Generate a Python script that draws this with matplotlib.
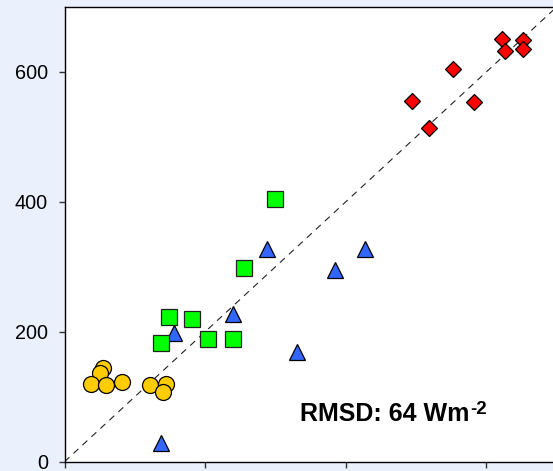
import matplotlib
matplotlib.use("Agg")
import matplotlib.pyplot as plt

# Data (modelled vs observed, W m-2)
circle_x = [55, 50, 37, 59, 82, 122, 144, 140]
circle_y = [144, 137, 120, 118, 123, 118, 120, 108]

triangle_x = [137, 156, 239, 288, 331, 385, 428]
triangle_y = [29, 198, 228, 327, 169, 295, 327]

square_x = [299, 256, 148, 181, 137, 204, 240]
square_y = [404, 298, 223, 220, 183, 189, 189]

diamond_x = [495, 518, 553, 583, 622, 626, 652, 652]
diamond_y = [555, 514, 605, 553, 651, 633, 649, 636]

one_to_one = [0, 700]
yticks = [0, 200, 400, 600]
xticks = [0, 200, 400, 600]
rmsd_label = "RMSD: 64 Wm"
rmsd_sup = "-2"

plt.rcParams['font.family'] = ['Liberation Sans', 'DejaVu Sans']

fig = plt.figure(figsize=(5.53, 4.71), dpi=100)
fig.patch.set_facecolor('#eaf0fc')
ax = fig.add_axes([64.5 / 553, 9.3 / 471, 492.1 / 553, 454.7 / 471])
ax.set_facecolor('white')

ax.plot(one_to_one, one_to_one, linestyle=(0, (6, 5)), color='#222222', lw=0.8, zorder=1)

ms = 11.5
ax.plot(circle_x, circle_y, 'o', ms=ms, mfc='#ffcc00', mec='black', mew=0.9, zorder=3)
ax.plot(triangle_x, triangle_y, '^', ms=ms + 0.5, mfc='#3366ff', mec='black', mew=0.9, zorder=3)
ax.plot(square_x, square_y, 's', ms=ms, mfc='#00ff00', mec='#222222', mew=0.9, zorder=4)
ax.plot(diamond_x, diamond_y, 'D', ms=8.6, mfc='#ff0000', mec='black', mew=0.9, zorder=3)

ax.set_xlim(0, 700)
ax.set_ylim(0, 700)
ax.set_xticks(xticks)
ax.set_yticks(yticks)
ax.set_yticklabels([str(v) for v in yticks], fontsize=14.3)
ax.tick_params(axis='x', labelbottom=False, length=4.5, width=1, color='#333333')
ax.tick_params(axis='y', length=4.3, width=1, pad=7.5, color='#333333')
for sp in ax.spines.values():
    sp.set_linewidth(1.0)
    sp.set_color('black')

t = ax.text(335, 62.5, rmsd_label, fontsize=18, fontweight='bold', ha='left', va='baseline')
ax.annotate(rmsd_sup, xy=(1.0, 1.0), xycoords=t, xytext=(0.5, 0.5), textcoords='offset points',
            fontsize=13.5, fontweight='bold', ha='left', va='top')

fig.savefig('out.png', dpi=100, facecolor=fig.get_facecolor())
